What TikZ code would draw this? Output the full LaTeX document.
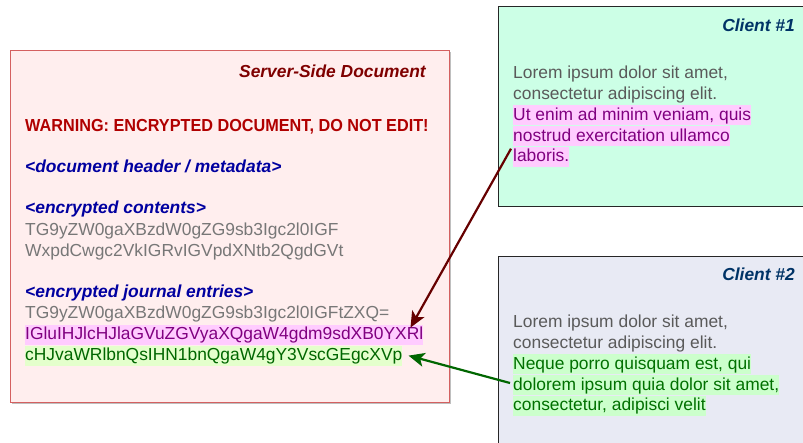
\documentclass[tikz,border=0pt]{standalone}
\usepackage{fontspec}
\setmainfont{Liberation Sans}
\usetikzlibrary{arrows.meta}

\definecolor{srvfill}{HTML}{FFEEEE}
\definecolor{srvline}{HTML}{D46060}
\definecolor{srvtitle}{HTML}{7F0000}
\definecolor{warnred}{HTML}{B00000}
\definecolor{tagblue}{HTML}{0000A0}
\definecolor{cipher}{HTML}{777777}
\definecolor{pinkbg}{HTML}{FFCCFF}
\definecolor{purpletxt}{HTML}{800080}
\definecolor{greenbg}{HTML}{E4FFCC}
\definecolor{greentxt}{HTML}{006600}
\definecolor{cfillA}{HTML}{CCFFE6}
\definecolor{cfillB}{HTML}{E8EAF4}
\definecolor{ctitle}{HTML}{003366}
\definecolor{plain}{HTML}{5A5A5A}
\definecolor{greenbgB}{HTML}{CCFFCC}
\definecolor{greentxtB}{HTML}{007000}
\definecolor{arrred}{HTML}{660000}
\definecolor{arrgreen}{HTML}{006600}

\begin{document}
\begin{tikzpicture}[x=1pt,y=-1pt,
  every node/.style={font=\fontsize{17.4}{20.9}\selectfont, inner sep=0pt},
  line/.style={anchor=base west},
  rline/.style={anchor=base east},
  title/.style={rline, font=\fontsize{17.4}{20.9}\selectfont\bfseries\itshape},
  tag/.style={line, text=tagblue, font=\fontsize{17.4}{20.9}\selectfont\bfseries\itshape},
  hl/.style={line, text height=15pt, text depth=5pt},
  panel/.style={draw, line width=1pt},
  link/.style={line width=2.2pt, -{Stealth[length=16pt,width=14pt,inset=4pt]}}]

\useasboundingbox (0,0) rectangle (803,442);

% server-side document panel
\fill[black!25] (12,52) rectangle (451,404);
\draw[panel, srvline, fill=srvfill] (10,50) rectangle (449,402);
\node[title, text=srvtitle] (stitle) at (426,77.7) {Server-Side Document};
\node[line, text=warnred, font=\fontsize{17.4}{20.9}\selectfont\bfseries] (warn) at (25,131.7)
  {\scalebox{0.933}[1]{WARNING: ENCRYPTED DOCUMENT, DO NOT EDIT!}};
\node[tag] (meta) at (25,172) {<document header / metadata>};
\node[tag] (ctag) at (25,213.5) {<encrypted contents>};
\node[line, text=cipher] (c1) at (25,235) {TG9yZW0gaXBzdW0gZG9sb3Igc2l0IGF};
\node[line, text=cipher] (c2) at (25,256) {WxpdCwgc2VkIGRvIGVpdXNtb2QgdGVt};
\node[tag] (jtag) at (25,297) {<encrypted journal entries>};
\node[line, text=cipher] (j1) at (25,318.8) {TG9yZW0gaXBzdW0gZG9sb3Igc2l0IGFtZXQ=};
\node[hl, fill=pinkbg, text=purpletxt] (j2) at (25,339.8) {IGluIHJlcHJlaGVuZGVyaXQgaW4gdm9sdXB0YXRl};
\node[hl, fill=greenbg, text=greentxt] (j3) at (25,360.6) {cHJvaWRlbnQsIHN1bnQgaW4gY3VscGEgcXVp};

% client 1 panel
\draw[panel, black!85, fill=cfillA] (498,6.5) rectangle (812,206.5);
\node[title, text=ctitle] (t1) at (795,31.5) {Client \#1};
\node[line, text=plain] (a1) at (513,78.3) {Lorem ipsum dolor sit amet,};
\node[line, text=plain] (a2) at (513,99.2) {consectetur adipiscing elit.};
\node[hl, fill=pinkbg, text=purpletxt] (a3) at (513,120.1) {Ut enim ad minim veniam, quis};
\node[hl, fill=pinkbg, text=purpletxt] (a4) at (513,141) {nostrud exercitation ullamco};
\node[hl, fill=pinkbg, text=purpletxt] (a5) at (513,161.9) {laboris.};

% client 2 panel
\draw[panel, black!85, fill=cfillB] (498,256) rectangle (812,452);
\node[title, text=ctitle] (t2) at (795,280.7) {Client \#2};
\node[line, text=plain] (b1) at (513,327.3) {Lorem ipsum dolor sit amet,};
\node[line, text=plain] (b2) at (513,348.2) {consectetur adipiscing elit.};
\node[hl, fill=greenbgB, text=greentxtB] (b3) at (513,369.1) {Neque porro quisquam est, qui};
\node[hl, fill=greenbgB, text=greentxtB] (b4) at (513,390) {dolorem ipsum quia dolor sit amet,};
\node[hl, fill=greenbgB, text=greentxtB] (b5) at (513,410.9) {consectetur, adipisci velit};

% edits travelling from the clients into the journal
\draw[link, arrred] ([shift={(-2pt,-2pt)}]a5.north west) -- ([shift={(-13pt,-3pt)}]j2.north east);
\draw[link, arrgreen] ([shift={(-3pt,2pt)}]b4.west) -- ([shift={(6pt,0pt)}]j3.east);
\end{tikzpicture}
\end{document}
